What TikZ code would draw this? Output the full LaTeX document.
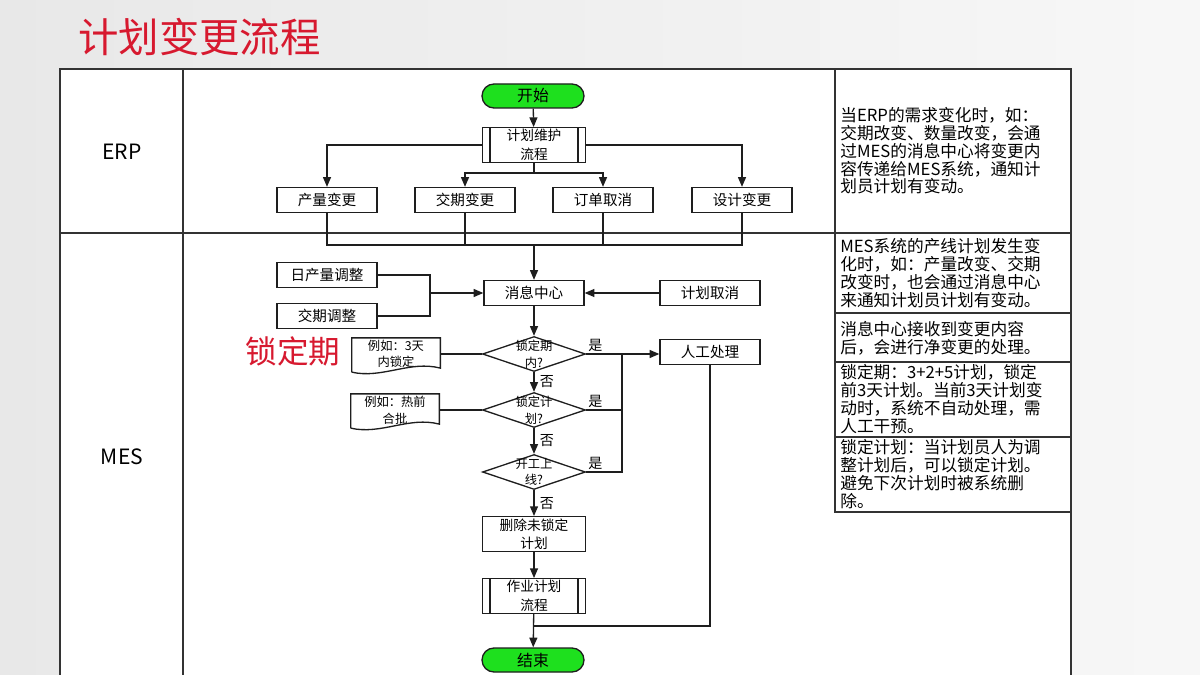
\documentclass[tikz,border=0pt]{standalone}
\usepackage{fontspec}
\setmainfont{Noto Sans CJK SC}
\usepackage{tikz}
\usetikzlibrary{positioning,arrows.meta,calc,shapes.geometric}
\usepackage{xcolor}
\definecolor{titlered}{HTML}{D7192F}
\definecolor{startgreen}{HTML}{1EE01E}
\definecolor{ink}{HTML}{1E1E1E}
\definecolor{rule}{HTML}{333333}

\tikzset{
  flowline/.style={draw=ink, line width=0.75pt},
  arr/.style={flowline, -{Triangle[length=5.5pt,width=4.5pt]}},
  box/.style={flowline, fill=white, rectangle, minimum width=2.0cm, minimum height=0.5cm,
    inner sep=1pt, align=center, font=\fontsize{8.3}{11}\selectfont},
  wide/.style={box, minimum width=2.06cm, minimum height=0.64cm, font=\fontsize{7.8}{10.5}\selectfont},
  term/.style={box, fill=startgreen, rounded corners=0.24cm, minimum height=0.48cm,
    minimum width=2.04cm, font=\fontsize{9}{11}\selectfont},
  decision/.style={diamond, flowline, fill=white, minimum width=2.06cm, minimum height=0.7cm, inner sep=0pt},
  dtext/.style={align=center, inner sep=0pt, font=\fontsize{7}{9.5}\selectfont},
  doc/.style={rectangle, minimum width=1.76cm, minimum height=0.62cm, inner sep=1pt,
    align=center, font=\fontsize{7}{9.5}\selectfont},
  yn/.style={inner sep=1pt, font=\fontsize{8}{9}\selectfont},
  note/.style={anchor=west, inner sep=0pt, align=left, font=\fontsize{9.5}{10.1}\selectfont},
  tbl/.style={draw=rule, line width=0.7pt}
}

% rectangle with wavy bottom, drawn round a named node
\newcommand{\docbox}[1]{%
  \draw[flowline] ($(#1.south west)+(0,2)$) -- (#1.north west) -- (#1.north east) -- ($(#1.south east)+(0,-2)$)
    .. controls ($(#1.south)+(14,-10)$) and ($(#1.south)+(-14,9)$) .. ($(#1.south west)+(0,2)$);}
% inner bars of a predefined process
\newcommand{\subproc}[1]{%
  \draw[flowline] ($(#1.north west)+(8,0)$) -- ($(#1.south west)+(8,0)$)
    ($(#1.north east)+(-8,0)$) -- ($(#1.south east)+(-8,0)$);}

\begin{document}
\begin{tikzpicture}[x=0.02cm, y=-0.02cm]
\useasboundingbox (0,0) rectangle (1200,675);
\shade[left color=black!9, right color=black!3] (0,0) rectangle (1200,675);
\node[anchor=west, inner sep=0pt, text=titlered, font=\fontsize{23}{24}\selectfont] (title) at (78,37) {计划变更流程};

% table
\fill[white] (60,69) rectangle (1071,675);
\draw[tbl] (60,675) -- (60,69) -- (1071,69) -- (1071,675);
\draw[tbl] (183,69) -- (183,675);
\draw[tbl] (835,69) -- (835,512) -- (1071,512);
\draw[tbl] (60,233) -- (1071,233);
\draw[tbl] (835,313) -- (1071,313);
\draw[tbl] (835,362) -- (1071,362);
\draw[tbl] (835,437) -- (1071,437);
\node[font=\fontsize{12}{14}\selectfont] (erp) at (122,152) {ERP};
\node[font=\fontsize{12}{14}\selectfont] (mes) at (122,457) {MES};

% notes
\node[note] (n1) at (840,151) {当ERP的需求变化时，如：\\交期改变、数量改变，会通\\过MES的消息中心将变更内\\容传递给MES系统，通知计\\划员计划有变动。};
\node[note] (n2) at (840,273) {MES系统的产线计划发生变\\化时，如：产量改变、交期\\改变时，也会通过消息中心\\来通知计划员计划有变动。};
\node[note] (n3) at (840,338) {消息中心接收到变更内容\\后，会进行净变更的处理。};
\node[note] (n4) at (840,399) {锁定期：3+2+5计划，锁定\\前3天计划。当前3天计划变\\动时，系统不自动处理，需\\人工干预。};
\node[note] (n5) at (840,474) {锁定计划：当计划员人为调\\整计划后，可以锁定计划。\\避免下次计划时被系统删\\除。};

% ERP lane
\node[term] (start) at (533,96) {开始};
\node[wide] (plan) at (534,145) {计划维护\\流程};
\subproc{plan}
\node[box] (qty) at (327,200) {产量变更};
\node[box] (due) at (465,200) {交期变更};
\node[box] (order) at (603,200) {订单取消};
\node[box] (design) at (742,200) {设计变更};
\draw[arr] (start) -- (plan);
\draw[arr] (plan.west) -| (qty.north);
\draw[arr] (plan.east) -| (design.north);
\coordinate (split) at (534,173);
\draw[flowline] (plan.south) -- (split);
\draw[arr] (split) -| (due.north);
\draw[arr] (split) -| (order.north);

% MES lane
\node[box] (msg) at (534,293) {消息中心};
\node[box] (daily) at (327,275) {日产量调整};
\node[box] (dueadj) at (327,316) {交期调整};
\node[box] (cancel) at (710,293) {计划取消};
\coordinate (join) at (534,245);
\draw[flowline] (qty.south) |- (design.south |- join) -- (design.south);
\draw[flowline] (due.south) -- (due.south |- join);
\draw[flowline] (order.south) -- (order.south |- join);
\draw[arr] (join) -- (msg.north);
\coordinate (merge) at (430,293);
\draw[flowline] (daily.east) -| (merge);
\draw[flowline] (dueadj.east) -| (merge);
\draw[arr] (merge) -- (msg.west);
\draw[arr] (cancel.west) -- (msg.east);

\node[text=titlered, inner sep=0pt, font=\fontsize{18}{20}\selectfont] (lockterm) at (293,351) {锁定期};

\node[decision, label={[dtext]center:锁定期\\内?}] (inwin) at (534,354) {};
\node[decision, label={[dtext]center:锁定计\\划?}] (locked) at (534,410) {};
\node[decision, label={[dtext]center:开工上\\线?}] (online) at (534,472) {};
\node[doc] (ex1) at (396,354) {例如：3天\\内锁定};
\docbox{ex1}
\node[doc] (ex2) at (395,410) {例如：热前\\合批};
\docbox{ex2}
\node[box] (manual) at (710,352) {人工处理};
\node[wide, minimum height=0.62cm] (purge) at (534,534) {删除未锁定\\计划};
\node[wide, minimum height=0.68cm] (job) at (534,596) {作业计划\\流程};
\subproc{job}
\node[term] (finish) at (533,660) {结束};

\draw[arr] (msg) -- (inwin);
\draw[flowline] (ex1.east) -- (inwin.west);
\draw[flowline] (ex2.east) -- (locked.west);
\draw[arr] (inwin.east) -- (inwin.east -| manual.west);
\coordinate (bus) at (622,354);
\draw[flowline] (online.east) -| (bus);
\draw[flowline] (locked.east) -- (locked.east -| bus);
\node[yn, anchor=south west] (y1) at (inwin.east) {是};
\node[yn, anchor=south west] (y2) at (locked.east) {是};
\node[yn, anchor=south west] (y3) at (online.east) {是};
\draw[arr] (inwin) -- node[yn, right=2pt] (no1) {否} (locked);
\draw[arr] (locked) -- node[yn, right=2pt] (no2) {否} (online);
\draw[arr] (online) -- node[yn, right=2pt] (no3) {否} (purge);
\draw[arr] (purge) -- (job);
\coordinate (back) at (534,626);
\draw[flowline] (manual.south) |- (back);
\draw[arr] (job) -- (finish);
\end{tikzpicture}
\end{document}
